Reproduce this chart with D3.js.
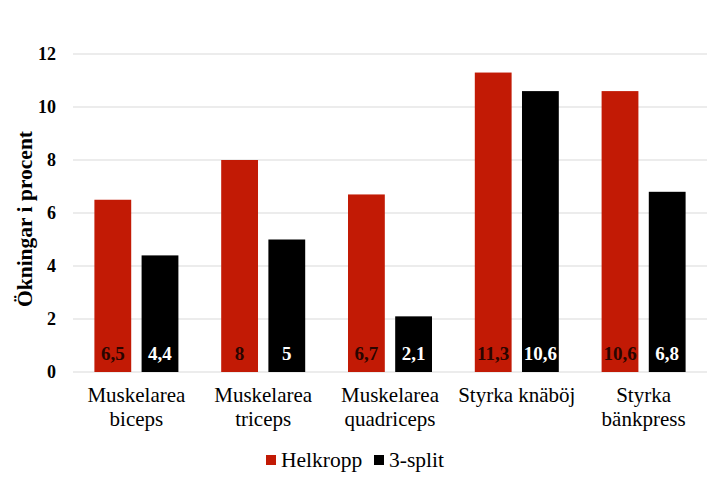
<!DOCTYPE html>
<html><head><meta charset="utf-8">
<script src="https://cdn.jsdelivr.net/npm/d3@7"></script>
<style>body{margin:0;background:#fff;} svg text{font-family:"Liberation Serif",Tinos,serif !important;}</style>
</head><body>
<svg id="c" width="721" height="497"></svg>
<script>
const categories = [["Muskelarea","biceps"],["Muskelarea","triceps"],["Muskelarea","quadriceps"],["Styrka knäböj"],["Styrka","bänkpress"]];
const seriesNames = ["Helkropp","3-split"];
const helkropp = [6.5, 8, 6.7, 11.3, 10.6];
const split3 = [4.4, 5, 2.1, 10.6, 6.8];
const labelsHel = ["6,5","8","6,7","11,3","10,6"];
const labelsSplit = ["4,4","5","2,1","10,6","6,8"];
const yTicks = [0,2,4,6,8,10,12];
const colors = ["#C21A05","#000000"];
const labelColors = ["#2a0500","#ffffff"];
const FF = "'Liberation Serif', Tinos, serif";

const svg = d3.select("#c");
const m = {l:73, r:14, t:54, b:125};
const W = 721, H = 497;
const x = d3.scaleBand().domain(d3.range(categories.length)).range([m.l, W-m.r]);
const y = d3.scaleLinear().domain([0,12]).range([H-m.b, m.t]);
const x1 = d3.scaleBand().domain([0,1]).range([0,84]).paddingInner(0.22);

function T(sel){ return sel.attr("font-family", FF).style("font-family", FF, "important"); }

svg.append("g").selectAll("line").data(yTicks).join("line")
  .attr("x1", m.l).attr("x2", W-m.r)
  .attr("y1", d=>y(d)).attr("y2", d=>y(d))
  .attr("stroke", "#d9d9d9").attr("stroke-width", 1);

T(svg.append("g").selectAll("text").data(yTicks).join("text"))
  .attr("x", 56).attr("y", d=>y(d)).attr("dy","0.35em")
  .attr("text-anchor","end").attr("font-size",18).attr("font-weight","bold").attr("fill","#000")
  .text(d=>d);

T(svg.append("text")).attr("transform",`translate(32,219) rotate(-90)`)
  .attr("text-anchor","middle").attr("font-size",21.5).attr("font-weight","bold").text("Ökningar i procent");

const series = [helkropp, split3];
const labs = [labelsHel, labelsSplit];
series.forEach((s, si) => {
  const g = svg.append("g");
  g.selectAll("rect").data(s).join("rect")
    .attr("x", (d,i)=> x(i) + x.bandwidth()/2 - 42 + x1(si))
    .attr("y", d=>y(d)).attr("width", x1.bandwidth()).attr("height", d=>y(0)-y(d))
    .attr("fill", colors[si]);
  T(g.selectAll("text").data(s).join("text"))
    .attr("x", (d,i)=> x(i) + x.bandwidth()/2 - 42 + x1(si) + x1.bandwidth()/2)
    .attr("y", y(0)-12)
    .attr("text-anchor","middle").attr("font-size",19).attr("font-weight","bold")
    .attr("fill", labelColors[si])
    .text((d,i)=>labs[si][i]);
});

const cg = svg.append("g");
categories.forEach((c,i)=>{
  const cx = x(i)+x.bandwidth()/2;
  c.forEach((line,li)=> T(cg.append("text")).attr("text-anchor","middle")
    .attr("font-size",21).attr("fill","#000")
    .attr("x", cx).attr("y", 402 + li*24).text(line));
});

const lg = svg.append("g");
const legItems = [{n:seriesNames[0], c:colors[0], x:266},{n:seriesNames[1], c:colors[1], x:374}];
legItems.forEach(it=>{
  lg.append("rect").attr("x", it.x).attr("y", 455).attr("width",10).attr("height",10).attr("fill", it.c);
  T(lg.append("text")).attr("x", it.x+15).attr("y", 467).attr("font-size",21.5).text(it.n);
});
</script>
</body></html>
